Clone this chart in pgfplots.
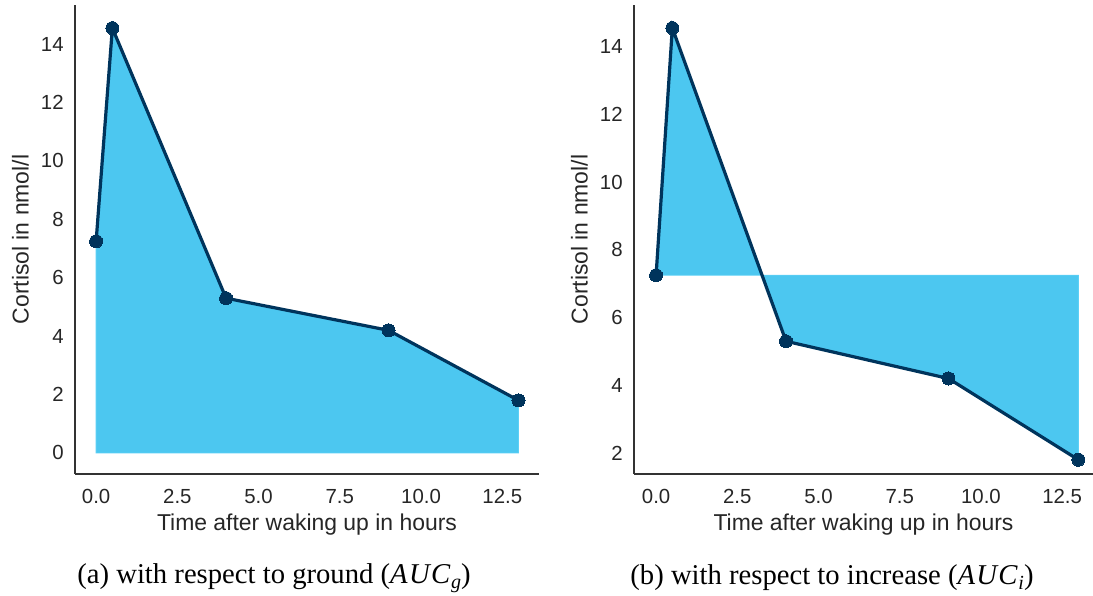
\documentclass[border=0pt]{standalone}
\usepackage{pgfplots}
\pgfplotsset{compat=1.18}
\usepackage{fontspec}
\setmainfont{Liberation Sans}
\newfontfamily\capfont{Liberation Serif}
\definecolor{fillc}{HTML}{4CC7F0}
\definecolor{edgec}{HTML}{5CD0F6}
\definecolor{linec}{HTML}{00345C}
\definecolor{txt}{HTML}{262626}
\definecolor{spine}{HTML}{333333}
\pgfplotsset{
  mystyle/.style={
    scale only axis,
    height=351.75pt,
    axis lines*=left,
    axis line style={-, color=spine, line width=1.1pt},
    major tick length=0pt,
    tick style={draw=none},
    ticklabel style={font=\fontsize{15.3}{18}\selectfont, color=txt},
    /pgf/number format/assume math mode=true,
    xtick={0,2.5,5,7.5,10,12.5},
    xticklabels={0.0,2.5,5.0,7.5,10.0,12.5},
    xticklabel style={yshift=-8pt},
    yticklabel style={xshift=-5pt},
    label style={font=\fontsize{17.2}{20}\selectfont, color=txt},
    xlabel={Time after waking up in hours},
    ylabel={Cortisol in nmol/l},
    xlabel style={at={(axis description cs:0.5,0)}, anchor=center, yshift=-38pt},
    ylabel style={at={(axis description cs:0,0.5)}, anchor=center, yshift=41pt},
    clip=false,
  },
  curve/.style={color=linec, line width=2.4pt, mark=*, mark size=4.9pt, mark options={fill=linec, draw=linec, line width=0pt}},
}
\begin{document}
\begin{tikzpicture}
\useasboundingbox (0,0) rectangle (819.75pt,447pt);
\begin{axis}[mystyle, at={(56.25pt,91.5pt)}, anchor=south west, width=348pt,
  xmin=-0.65, xmax=13.63, ymin=-0.72, ymax=15.34,
  ytick={0,2,4,6,8,10,12,14}]
  \addplot[fill=fillc, draw=edgec, line width=0.6pt] coordinates {(0,0) (0,7.25) (0.5,14.55) (4,5.3) (9,4.2) (13,1.8) (13,0)} -- cycle;
  \addplot[curve] coordinates {(0,7.25) (0.5,14.55) (4,5.3) (9,4.2) (13,1.8)};
\end{axis}
\begin{axis}[mystyle, at={(475.5pt,91.5pt)}, anchor=south west, width=344.25pt,
  xmin=-0.68, xmax=13.45, ymin=1.38, ymax=15.23,
  ytick={2,4,6,8,10,12,14}]
  \addplot[fill=fillc, draw=edgec, line width=0.6pt] coordinates {(0,7.25) (0.5,14.55) (4,5.3) (9,4.2) (13,1.8) (13,7.25)} -- cycle;
  \addplot[curve] coordinates {(0,7.25) (0.5,14.55) (4,5.3) (9,4.2) (13,1.8)};
\end{axis}
\node[font=\capfont\fontsize{21.5}{25}\selectfont, anchor=center] at (205.5pt,13.5pt) {(a) with respect to ground (\textit{A\kern1pt U\kern1pt C}\kern0.5pt\raisebox{-0.35ex}{\fontsize{15}{17}\selectfont\textit{g}})};
\node[font=\capfont\fontsize{21.5}{25}\selectfont, anchor=center] at (624pt,13.5pt) {(b) with respect to increase (\textit{A\kern1pt U\kern1pt C}\kern0.5pt\raisebox{-0.35ex}{\fontsize{15}{17}\selectfont\textit{i}})};
\end{tikzpicture}
\end{document}
